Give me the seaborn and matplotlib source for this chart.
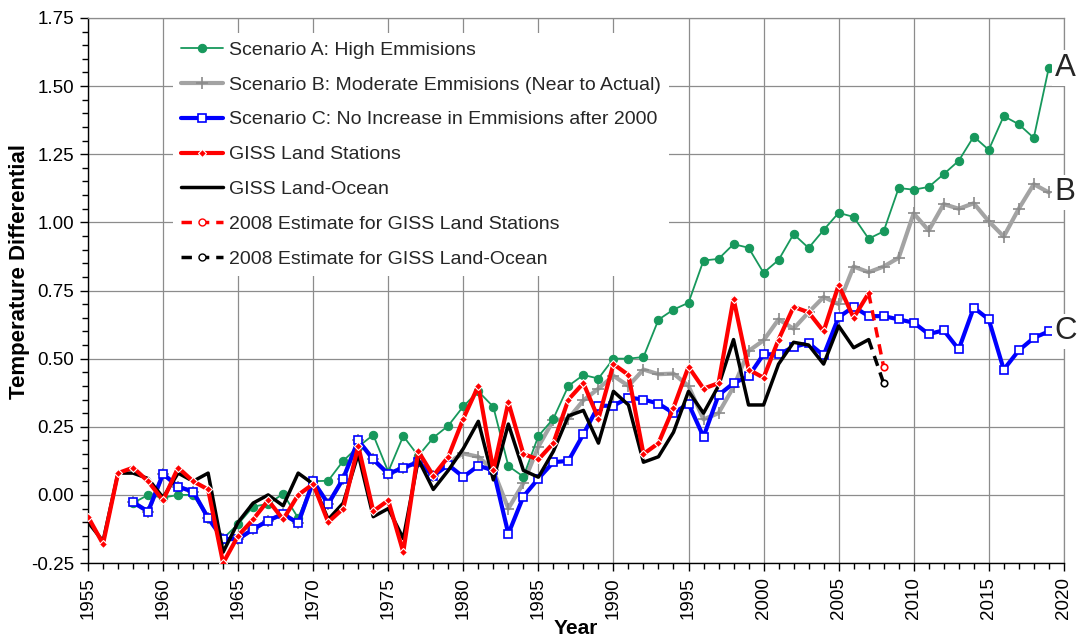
import matplotlib
matplotlib.use("Agg")
import matplotlib.pyplot as plt
import seaborn as sns
from matplotlib.lines import Line2D
from matplotlib.ticker import FormatStrFormatter, MultipleLocator

sns.set_theme(style="white")
plt.rcParams["font.family"] = ["Liberation Sans", "DejaVu Sans"]

# observed GISS series, 1955-2007
obs_years = list(range(1955, 2008))
giss_land = [-0.08, -0.18, 0.08, 0.10, 0.05, -0.02, 0.10, 0.05, 0.02, -0.25,
             -0.15, -0.09, -0.02, -0.09, 0.00, 0.04, -0.10, -0.05, 0.18, -0.06,
             -0.02, -0.21, 0.16, 0.07, 0.14, 0.28, 0.40, 0.09, 0.34, 0.15,
             0.13, 0.19, 0.35, 0.41, 0.28, 0.48, 0.44, 0.15, 0.19, 0.32,
             0.47, 0.39, 0.41, 0.72, 0.46, 0.43, 0.57, 0.69, 0.67, 0.60,
             0.77, 0.65, 0.74]
giss_lo = [-0.10, -0.17, 0.08, 0.08, 0.06, -0.01, 0.08, 0.05, 0.08, -0.21,
           -0.10, -0.03, 0.00, -0.04, 0.08, 0.04, -0.09, -0.03, 0.15, -0.08,
           -0.05, -0.16, 0.13, 0.02, 0.09, 0.17, 0.27, 0.055, 0.26, 0.09,
           0.065, 0.16, 0.29, 0.31, 0.19, 0.38, 0.33, 0.12, 0.14, 0.23,
           0.38, 0.30, 0.40, 0.57, 0.33, 0.33, 0.48, 0.56, 0.55, 0.48,
           0.62, 0.54, 0.57]

# Hansen scenarios, 1958-2019
scen_years = list(range(1958, 2020))
scen_a = [-0.03, 0.00, -0.01, 0.00, 0.00, -0.085, -0.16, -0.107, -0.043, -0.033,
          0.004, -0.085, 0.05, 0.052, 0.125, 0.177, 0.22, 0.085, 0.216, 0.143,
          0.21, 0.254, 0.325, 0.38, 0.323, 0.106, 0.067, 0.216, 0.28, 0.40,
          0.44, 0.427, 0.50, 0.50, 0.506, 0.643, 0.68, 0.705, 0.86, 0.866,
          0.92, 0.907, 0.815, 0.862, 0.957, 0.906, 0.972, 1.035, 1.02, 0.94,
          0.967, 1.126, 1.12, 1.13, 1.177, 1.226, 1.315, 1.266, 1.39, 1.36,
          1.31, 1.567]
scen_b = [-0.027, -0.061, 0.077, 0.03, 0.012, -0.085, -0.162, -0.162, -0.126, -0.094,
          -0.07, -0.104, 0.05, -0.033, 0.06, 0.20, 0.13, 0.077, 0.10, 0.12,
          0.07, 0.12, 0.152, 0.14, 0.09, -0.05, 0.043, 0.177, 0.274, 0.28,
          0.347, 0.39, 0.437, 0.40, 0.46, 0.443, 0.445, 0.40, 0.277, 0.30,
          0.396, 0.528, 0.567, 0.644, 0.61, 0.67, 0.726, 0.70, 0.838, 0.817,
          0.838, 0.87, 1.033, 0.97, 1.067, 1.05, 1.07, 1.004, 0.948, 1.05,
          1.14, 1.11]
scen_c = [-0.027, -0.061, 0.077, 0.03, 0.012, -0.085, -0.162, -0.162, -0.126, -0.094,
          -0.07, -0.104, 0.05, -0.033, 0.06, 0.20, 0.13, 0.077, 0.10, 0.12,
          0.07, 0.11, 0.066, 0.107, 0.09, -0.143, -0.006, 0.06, 0.12, 0.125,
          0.223, 0.327, 0.327, 0.357, 0.35, 0.335, 0.30, 0.335, 0.213, 0.366,
          0.41, 0.435, 0.516, 0.516, 0.543, 0.557, 0.512, 0.652, 0.69, 0.656,
          0.656, 0.644, 0.632, 0.59, 0.604, 0.534, 0.687, 0.644, 0.46, 0.53,
          0.576, 0.60]

# 2008 estimates
est_years = [2007, 2008]
est_land = [0.74, 0.47]
est_lo = [0.57, 0.41]

labels = ["Scenario A: High Emmisions",
          "Scenario B: Moderate Emmisions (Near to Actual)",
          "Scenario C: No Increase in Emmisions after 2000",
          "GISS Land Stations",
          "GISS Land-Ocean",
          "2008 Estimate for GISS Land Stations",
          "2008 Estimate for GISS Land-Ocean"]

GREEN = "#17985c"
GRAY = "#a3a3a3"
BLUE = "#0000ff"
RED = "#ff0000"
GRID = "#8c8c8c"

fig = plt.figure(figsize=(10.8, 6.42), dpi=100)
ax = fig.add_axes([0.0815, 0.123, 0.9035, 0.849])

common = dict(ax=ax, estimator=None, errorbar=None, sort=False, legend=False)
sns.lineplot(x=scen_years, y=scen_b, color=GRAY, lw=3, marker="+", ms=8,
             mec="#8a8a8a", mew=1.2, zorder=2, **common)
sns.lineplot(x=scen_years, y=scen_a, color=GREEN, lw=1.3, marker="o", ms=6,
             mec=GREEN, zorder=3, **common)
sns.lineplot(x=scen_years, y=scen_c, color=BLUE, lw=3, marker="s", ms=6,
             mfc="white", mec=BLUE, mew=1.2, zorder=4, **common)
sns.lineplot(x=obs_years, y=giss_lo, color="black", lw=2.5, zorder=5, **common)
sns.lineplot(x=obs_years, y=giss_land, color=RED, lw=3, marker="D", ms=4,
             mfc=RED, mec="white", mew=0.8, zorder=6, **common)
sns.lineplot(x=est_years, y=est_land, color=RED, lw=2.5, dashes=False,
             linestyle=(0, (3, 2)), zorder=6, **common)
sns.lineplot(x=est_years, y=est_lo, color="black", lw=2.5, dashes=False,
             linestyle=(0, (3, 2)), zorder=5, **common)
sns.scatterplot(x=est_years[1:], y=est_land[1:], ax=ax, marker="o", s=22,
                facecolor="white", edgecolor=RED, linewidth=1.2, zorder=7, legend=False)
sns.scatterplot(x=est_years[1:], y=est_lo[1:], ax=ax, marker="o", s=22,
                facecolor="white", edgecolor="black", linewidth=1.2, zorder=7, legend=False)

# end labels
for tag, ys in zip(["A", "B", "C"], [scen_a, scen_b, scen_c]):
    ax.text(scen_years[-1] + 0.4, ys[-1], tag, fontsize=22.5, ha="left", va="center",
            clip_on=False, zorder=10,
            bbox=dict(facecolor="white", edgecolor="none", pad=2))

ax.set_xlim(1955, 2020)
ax.set_ylim(-0.25, 1.75)
ax.xaxis.set_major_locator(MultipleLocator(5))
ax.xaxis.set_minor_locator(MultipleLocator(1))
ax.yaxis.set_major_locator(MultipleLocator(0.25))
ax.yaxis.set_minor_locator(MultipleLocator(0.05))
ax.yaxis.set_major_formatter(FormatStrFormatter("%.2f"))
ax.tick_params(axis="both", which="major", direction="out", length=6, width=1,
               color="black", labelsize=13.5, pad=4, bottom=True, left=True,
               labelcolor="black")
ax.tick_params(axis="both", which="minor", direction="out", length=4, width=1,
               color="black", bottom=True, left=True)
ax.tick_params(axis="x", which="major", labelrotation=90)

ax.grid(True, which="major", color=GRID, lw=0.9)
ax.set_axisbelow(True)
for side in ["left", "bottom"]:
    ax.spines[side].set_color("black")
    ax.spines[side].set_linewidth(1.0)
for side in ["top", "right"]:
    ax.spines[side].set_color(GRID)
    ax.spines[side].set_linewidth(0.9)

ax.set_xlabel("Year", fontsize=15, fontweight="bold", color="black")
ax.set_ylabel("Temperature Differential", fontsize=16, fontweight="bold", color="black")
ax.xaxis.set_label_coords(0.5, -0.103)
ax.yaxis.set_label_coords(-0.059, 0.535)

handles = ax.get_lines()[:5]
handles = [handles[1], handles[0], handles[2], handles[4], handles[3]]
handles += [
    Line2D([], [], color=RED, lw=2.5, ls=(0, (3, 2)), marker="o", ms=5,
           mfc="white", mec=RED),
    Line2D([], [], color="black", lw=2.5, ls=(0, (3, 2)), marker="o", ms=5,
           mfc="white", mec="black"),
]
leg = ax.legend(handles, labels, loc="upper left", bbox_to_anchor=(0.087, 0.972),
                borderaxespad=0, borderpad=0.4, fontsize=14, handlelength=2.2,
                handletextpad=0.3, labelspacing=0.89, frameon=True, fancybox=False,
                facecolor="white", edgecolor="none", framealpha=1)
leg.set_zorder(8)

fig.savefig("out.png", dpi=100)
